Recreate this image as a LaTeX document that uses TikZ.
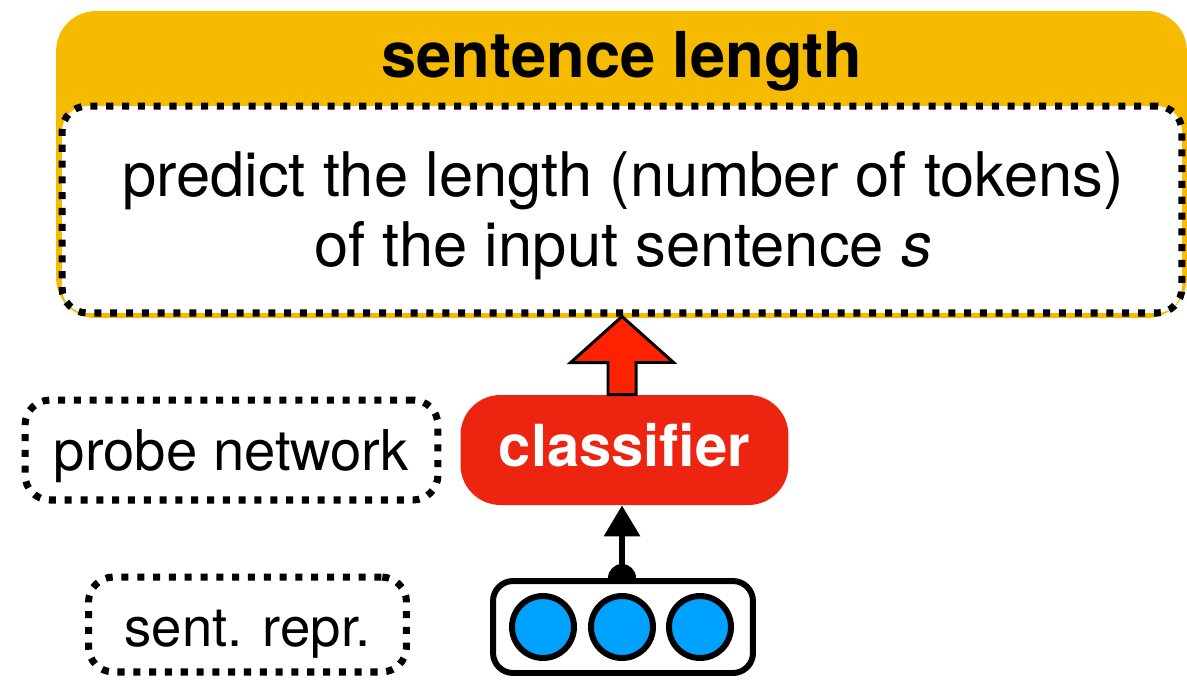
\documentclass[tikz,border=0pt]{standalone}
\usepackage{fontspec}
\setmainfont{TeX Gyre Heros}
\usetikzlibrary{arrows.meta, calc, positioning}

\definecolor{taskyellow}{HTML}{F6BA00}
\definecolor{clsred}{HTML}{EC2410}
\definecolor{arrowred}{HTML}{FF2200}
\definecolor{unitblue}{HTML}{00A2FF}

\tikzset{
	dotbox/.style={draw, fill=white, line width=4pt, dash pattern=on 4pt off 5pt, rounded corners=0.5cm, inner sep=0pt},
	unit/.style={circle, draw, fill=unitblue, line width=3.4pt, minimum size=1.24cm, inner sep=0pt}
}

\begin{document}
\begin{tikzpicture}[x=0.02cm, y=-0.02cm]
			\useasboundingbox (0,0) rectangle (1187,681);
			
			% task box
			\node[rectangle, fill=taskyellow, rounded corners=0.8cm, minimum width=22.62cm, minimum height=6.14cm, inner sep=0pt] (task) at (621.5,164.5) {};
			\node[anchor=base, font=\fontsize{36}{40}\selectfont\bfseries] (title) at (622,77) {sentence length};
			\node[dotbox, minimum width=22.4cm, minimum height=4.14cm] (desc) at (622,209.5) {};
			\node[align=center, font=\fontsize{35}{39.7}\selectfont] (desctxt) at (623,216) {predict the length (number of tokens)\\of the input sentence \textit{s}};
			
			% probe
			\node[rectangle, fill=clsred, rounded corners=0.8cm, minimum width=6.56cm, minimum height=2.2cm, inner sep=0pt, text=white, text height=24pt, text depth=5.8pt, font=\fontsize{33}{38}\selectfont\bfseries] (cls) at (624.5,450) {classifier};
			\node[dotbox, minimum width=8.26cm, minimum height=2cm, text height=23pt, text depth=0pt, font=\fontsize{32}{38}\selectfont] (probe) at (231.5,450) {probe network};
			
			% sentence representation
			\node[circle, fill, inner sep=0pt, minimum size=0.56cm] (knob) at (622,578) {};
			\node[rectangle, draw, fill=white, line width=3.4pt, rounded corners=0.4cm, minimum width=5.2cm, minimum height=1.84cm] (vec) at (623,627) {};
			\foreach \n/\dx in {a/-80,b/-1,c/77}
				\node[unit] (u\n) at ($(vec.center)+(\dx,0)$) {};
			\node[dotbox, minimum width=6.36cm, minimum height=1.9cm, text height=25pt, text depth=0pt, font=\fontsize{31}{36}\selectfont] (repr) at (247.5,624.5) {sent. repr.};
			
			\draw[line width=3.6pt, -{Triangle[length=0.62cm, width=0.7cm]}] (knob.center) -- (knob.center |- cls.south);
			\draw[fill=arrowred, line width=1.7pt, line join=miter] ($(cls.north)+(-16.5,0)$) -- ++(0,-32) -- ++(-37.5,0) -- (desc.south) -- ++(51.5,46) -- ++(-37.5,0) -- ++(0,32) -- cycle;
		\end{tikzpicture}
\end{document}
